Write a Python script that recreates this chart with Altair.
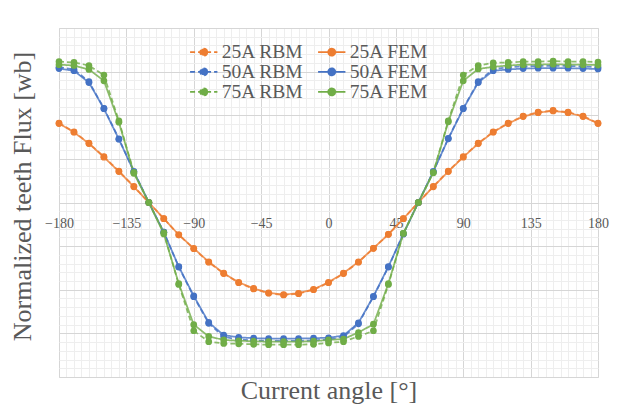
import altair as alt
import pandas as pd

angles = list(range(-180, 181, 10))

rbm25 = [1.82, 1.62, 1.36, 1.05, 0.72, 0.37, 0.00, -0.37, -0.74, -1.06, -1.37, -1.63, -1.84, -1.98, -2.08, -2.12, -2.09, -2.00, -1.84,
         -1.63, -1.37, -1.05, -0.73, -0.37, 0.00, 0.37, 0.72, 1.05, 1.36, 1.62, 1.82, 1.98, 2.07, 2.11, 2.07, 1.98, 1.82]
fem25 = [1.81, 1.61, 1.35, 1.04, 0.71, 0.36, 0.00, -0.37, -0.74, -1.05, -1.36, -1.62, -1.83, -1.97, -2.07, -2.11, -2.08, -1.99, -1.83,
         -1.62, -1.36, -1.05, -0.73, -0.37, 0.00, 0.36, 0.71, 1.04, 1.35, 1.61, 1.81, 1.97, 2.06, 2.10, 2.06, 1.97, 1.81]
rbm50 = [3.10, 3.05, 2.77, 2.16, 1.46, 0.71, 0.00, -0.68, -1.48, -2.16, -2.77, -3.08, -3.14, -3.16, -3.17, -3.17, -3.17, -3.16, -3.14,
         -3.08, -2.78, -2.16, -1.48, -0.72, 0.00, 0.71, 1.47, 2.16, 2.77, 3.06, 3.10, 3.12, 3.13, 3.13, 3.13, 3.12, 3.10]
fem50 = [3.07, 3.02, 2.75, 2.15, 1.45, 0.71, 0.00, -0.68, -1.47, -2.14, -2.75, -3.04, -3.09, -3.11, -3.12, -3.12, -3.12, -3.11, -3.10,
         -3.05, -2.76, -2.15, -1.47, -0.72, 0.00, 0.71, 1.46, 2.15, 2.75, 3.02, 3.05, 3.07, 3.08, 3.08, 3.08, 3.07, 3.06]
rbm75 = [3.23, 3.21, 3.14, 2.92, 1.87, 0.69, 0.00, -0.69, -1.88, -2.94, -3.19, -3.23, -3.24, -3.25, -3.26, -3.26, -3.26, -3.25, -3.22,
         -3.19, -3.07, -2.94, -1.88, -0.71, 0.00, 0.69, 1.87, 2.92, 3.14, 3.20, 3.21, 3.23, 3.23, 3.24, 3.23, 3.23, 3.22]
fem75 = [3.16, 3.14, 3.05, 2.79, 1.84, 0.67, 0.00, -0.72, -1.86, -2.80, -3.07, -3.15, -3.17, -3.18, -3.19, -3.19, -3.19, -3.18, -3.15,
         -3.13, -2.98, -2.79, -1.86, -0.71, 0.00, 0.68, 1.85, 2.79, 3.06, 3.11, 3.14, 3.16, 3.16, 3.17, 3.16, 3.16, 3.15]

# drawing order (later on top)
series_names = ["25A RBM", "25A FEM", "50A RBM", "50A FEM", "75A RBM", "75A FEM"]
series_values = [rbm25, fem25, rbm50, fem50, rbm75, fem75]

# legend order (column-wise: RBM column, then FEM column)
legend_order = ["25A RBM", "50A RBM", "75A RBM", "25A FEM", "50A FEM", "75A FEM"]
legend_colors = ["#ED7D31", "#4472C4", "#70AD47", "#ED7D31", "#4472C4", "#70AD47"]
legend_dashes = [[5, 3], [5, 3], [5, 3], [1, 0], [1, 0], [1, 0]]

x_tick_values = list(range(-180, 181, 5))
y_tick_values = [round(-4 + 0.2 * i, 1) for i in range(41)]

rows = []
for k, (name, vals) in enumerate(zip(series_names, series_values)):
    for a, v in zip(angles, vals):
        rows.append({"series": name, "angle": a, "flux": v, "draw": k})
df = pd.DataFrame(rows)

FONT = "Liberation Serif"
TXT = "#595959"
MAJOR = "#d6d6d6"
MINOR = "#eeeeee"

# wide line with a dot, drawn beyond the unit box so the nominal symbol size stays small
legend_symbol = "M-3,0L3,0M0.77,0A0.77,0.77,0,1,1,-0.77,0A0.77,0.77,0,1,1,0.77,0Z"

legend = alt.Legend(
    title=None, orient="none", legendX=135, legendY=14, columns=2,
    symbolType=legend_symbol, symbolSize=83, symbolStrokeWidth=1.75, symbolOpacity=1,
    labelFont=FONT, labelFontSize=19.5, labelColor=TXT, labelOffset=8.3,
    rowPadding=-0.9, columnPadding=10, padding=0,
)

x_enc = alt.X(
    "angle:Q",
    scale=alt.Scale(domain=[-180, 180], nice=False, zero=False),
    axis=alt.Axis(
        values=x_tick_values,
        grid=True,
        gridColor={"condition": {"test": "datum.value % 45 === 0", "value": MAJOR}, "value": MINOR},
        gridWidth=1,
        ticks=False, tickSize=0, domain=False,
        labelExpr="datum.value % 45 === 0 ? datum.label : ''",
        labelFont=FONT, labelFontSize=14, labelColor=TXT,
        labelPadding=-154, labelBaseline="middle", labelFlush=False, labelOverlap=False,
        title="Current angle [°]", titleFont=FONT, titleFontSize=26, titleFontWeight="normal",
        titleColor=TXT, titleBaseline="alphabetic", titleY=21, titleX=269.5, titleAlign="center",
    ),
)
y_enc = alt.Y(
    "flux:Q",
    scale=alt.Scale(domain=[-4, 4], nice=False, zero=False),
    axis=alt.Axis(
        values=y_tick_values,
        grid=True,
        gridColor={"condition": {"test": "abs(datum.value - round(datum.value)) < 0.001", "value": MAJOR}, "value": MINOR},
        gridWidth=1,
        labels=False, ticks=False, domain=False,
        title="Normalized teeth Flux [wb]", titleFont=FONT, titleFontSize=26, titleFontWeight="normal",
        titleColor=TXT, titleAngle=270, titleBaseline="alphabetic", titleAlign="center",
        titleX=-28.5, titleY=168,
    ),
)

lines = alt.Chart(df).mark_line(strokeWidth=1.75, opacity=0.8).encode(
    x=x_enc,
    y=y_enc,
    stroke=alt.Stroke("series:N", scale=alt.Scale(domain=legend_order, range=legend_colors), legend=legend),
    strokeDash=alt.StrokeDash("series:N", scale=alt.Scale(domain=legend_order, range=legend_dashes), legend=legend),
    order=alt.Order("angle:Q"),
)

points = alt.Chart(df).mark_circle(size=45, opacity=1).encode(
    x=x_enc,
    y=y_enc,
    fill=alt.Fill("series:N", scale=alt.Scale(domain=legend_order, range=legend_colors), legend=legend),
    order=alt.Order("draw:Q"),
)

chart = alt.layer(lines, points).properties(
    width=539, height=349,
    autosize=alt.AutoSizeParams(type="none"),
    padding={"left": 51, "top": 20, "right": 16, "bottom": 28},
).configure_view(stroke=None).configure(background="white")

chart.save("out.html", embed_options={"renderer": "svg", "actions": False})
